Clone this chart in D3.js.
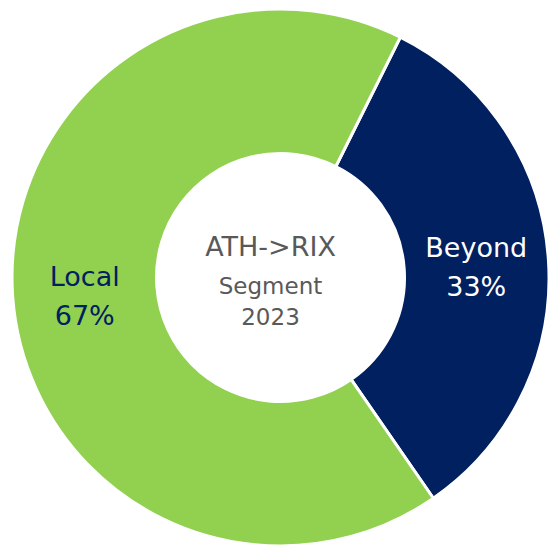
<!DOCTYPE html>
<html>
<head>
<meta charset="utf-8">
<script src="https://cdn.jsdelivr.net/npm/d3@7"></script>
<style>
  html, body { margin: 0; padding: 0; background: #fff; }
</style>
</head>
<body>
<div id="chart"></div>
<script>
// data
var segments = ["Beyond", "Local"];
var shares = [33, 67];
var shareLabels = ["33%", "67%"];
var centerLines = ["ATH->RIX", "Segment", "2023"];

var width = 549, height = 545;
var cx = 280.5, cy = 277.5;
var outerR = 268.5, innerR = 124;

var svg = d3.select("#chart")
  .append("svg")
    .attr("width", width)
    .attr("height", height)
  .append("g")
    .attr("transform", "translate(" + cx + "," + cy + ")");

var color = d3.scaleOrdinal()
  .domain(segments)
  .range(["#002060", "#92D050"]);

var textColor = d3.scaleOrdinal()
  .domain(segments)
  .range(["#ffffff", "#002060"]);

var data = segments.map(function(s, i) { return {name: s, value: shares[i], label: shareLabels[i]}; });

var pie = d3.pie()
  .sort(null)
  .value(function(d) { return d.value; })
  .startAngle(26.5 * Math.PI / 180)
  .endAngle(26.5 * Math.PI / 180 + 2 * Math.PI);

var arc = d3.arc().innerRadius(innerR).outerRadius(outerR);

var arcs = pie(data);

svg.selectAll("path.slice")
  .data(arcs)
  .enter()
  .append("path")
    .attr("class", "slice")
    .attr("d", arc)
    .attr("fill", function(d) { return color(d.data.name); })
    .attr("stroke", "#fff")
    .attr("stroke-width", 3);

// slice labels
var labels = svg.selectAll("text.lbl")
  .data(arcs)
  .enter()
  .append("text")
    .attr("class", "lbl")
    .attr("transform", function(d) {
      var c = arc.centroid(d);
      return "translate(" + c[0] + "," + c[1] + ")";
    })
    .attr("text-anchor", "middle")
    .style("font-family", "'DejaVu Sans', Verdana, sans-serif")
    .style("font-size", "27px")
    .attr("fill", function(d) { return textColor(d.data.name); });

labels.append("tspan")
  .attr("x", 0)
  .attr("y", -6)
  .text(function(d) { return d.data.name; });
labels.append("tspan")
  .attr("x", 0)
  .attr("y", 33)
  .text(function(d) { return d.data.label; });

// centre text
var centre = svg.append("text")
  .attr("text-anchor", "middle")
  .attr("fill", "#595959")
  .style("font-family", "'DejaVu Sans', Verdana, sans-serif");

var centreY = [-22, 16, 47];
var centreSize = [27, 23, 23];
centre.selectAll("tspan")
  .data(centerLines)
  .enter()
  .append("tspan")
    .attr("x", -10)
    .attr("y", function(d, i) { return centreY[i]; })
    .style("font-size", function(d, i) { return centreSize[i] + "px"; })
    .text(function(d) { return d; });
</script>
</body>
</html>
